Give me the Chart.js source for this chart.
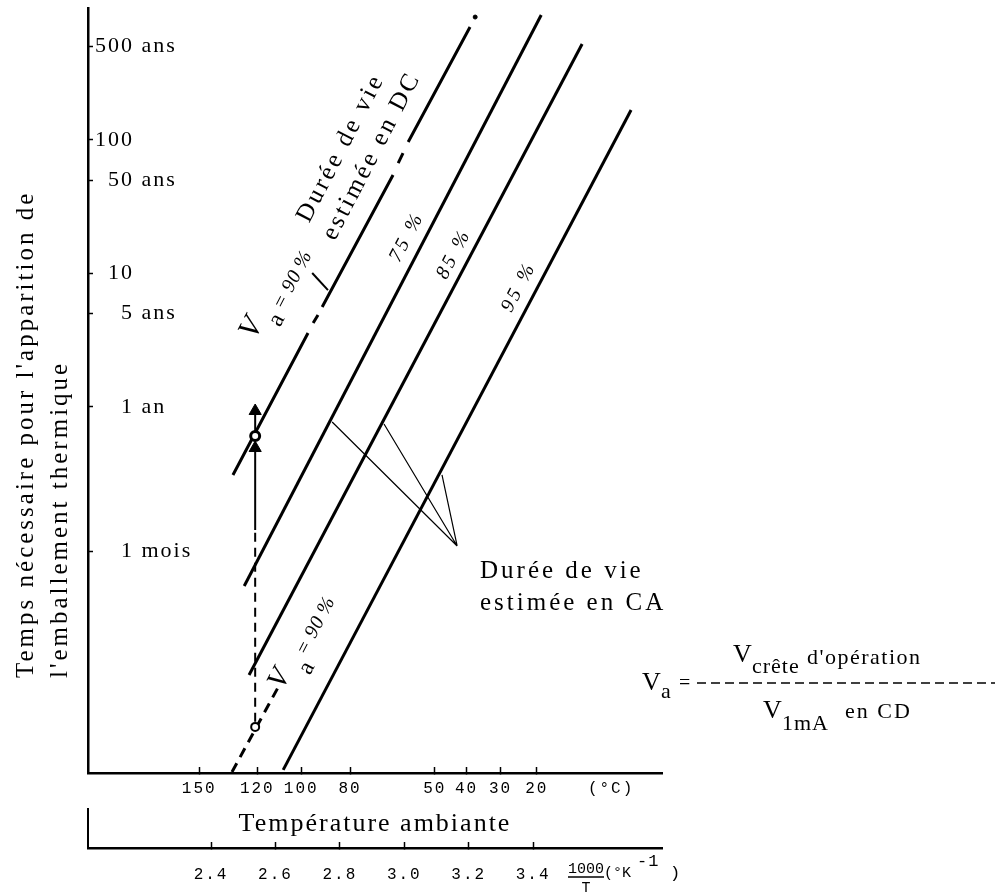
<!DOCTYPE html>
<html lang="fr">
<head>
<meta charset="UTF-8">
<title>Durée de vie estimée - emballement thermique</title>
<script src="https://cdn.jsdelivr.net/npm/chart.js"></script>
<style>
  html, body { margin: 0; padding: 0; background: #fff; }
</style>
</head>
<body>
<canvas id="graphe" width="1003" height="896"></canvas>
<script>
  // axe vertical : temps en années (log)
  const yTicks = [1 / 12, 1, 5, 10, 50, 100, 500];
  const yTickLabels = ['\u2007\u20071 mois', '\u2007\u20071 an', '\u2007\u20075 ans', '\u200710', '\u200750 ans', '100', '500 ans'];

  // axes horizontaux : 1000/T et température en °C
  const invTTicks = [2.4, 2.6, 2.8, 3.0, 3.2, 3.4];
  const tempC = [150, 120, 100, 80, 50, 40, 30, 20];
  const posUniteC = 3.642; // place du libellé (°C)

  // droites Va (x = 1000/T, y = années)
  const va75 = [{ x: 2.503, y: 0.0457 }, { x: 3.425, y: 859 }];
  const va85 = [{ x: 2.518, y: 0.00986 }, { x: 3.552, y: 521 }];
  const va95 = [{ x: 2.624, y: 0.00192 }, { x: 3.704, y: 167 }];
  const va90ca = [{ x: 2.465, y: 0.00185 }, { x: 2.614, y: 0.00845 }];
  const va90cd = [
    { x: 2.468, y: 0.31 }, { x: 2.701, y: 3.58 }, { x: 2.709, y: null },
    { x: 2.717, y: 4.25 }, { x: 2.732, y: 4.88 }, { x: 2.739, y: null },
    { x: 2.745, y: 5.6 }, { x: 2.965, y: 54.5 }, { x: 2.973, y: null },
    { x: 2.981, y: 67 }, { x: 2.996, y: 79.6 }, { x: 3.004, y: null },
    { x: 3.012, y: 96.3 }, { x: 3.204, y: 699 }
  ];

  // flèche verticale à 120 °C
  const montee = [
    { x: 2.537, y: 0.0044 }, { x: 2.537, y: 0.12 }, { x: 2.537, y: 0.493 }, { x: 2.537, y: null },
    { x: 2.537, y: 0.607 }, { x: 2.537, y: 0.933 }
  ];
  const fleches = [{ x: 2.537, y: 0.493 }, { x: 2.537, y: 0.933 }];
  const cercles = [{ x: 2.537, y: 0.00403 }, { x: 2.537, y: 0.607 }, { x: 3.220, y: 830 }];

  // traits de renvoi
  const renvoiCA = [
    { x: 3.164, y: 0.0911 }, { x: 2.776, y: 0.772 }, { x: 2.97, y: null },
    { x: 3.164, y: 0.0911 }, { x: 2.937, y: 0.746 }, { x: 3.05, y: null },
    { x: 3.164, y: 0.0911 }, { x: 3.117, y: 0.310 }
  ];
  const renvoiCD = [{ x: 2.763, y: 7.5 }, { x: 2.714, y: 10.07 }];

  const SERIF = '"Liberation Serif", "DejaVu Serif", serif';
  const MONO = '"Liberation Mono", "DejaVu Sans Mono", monospace';

  function texte(ctx, s, x, y, font, o = {}) {
    ctx.save();
    ctx.font = font;
    ctx.fillStyle = '#000';
    ctx.letterSpacing = (o.ls === undefined ? 3 : o.ls) + 'px';
    ctx.textAlign = o.align || 'left';
    ctx.textBaseline = o.base || 'alphabetic';
    ctx.translate(x, y);
    if (o.rot) ctx.rotate(o.rot);
    ctx.fillText(s, 0, 0);
    ctx.restore();
  }

  const habillage = {
    id: 'habillage',
    beforeDraw(chart) {
      const ctx = chart.ctx;
      ctx.save();
      ctx.fillStyle = '#fff';
      ctx.fillRect(0, 0, chart.width, chart.height);
      ctx.restore();
      ctx.letterSpacing = '2px';
    },
    afterDraw(chart) {
      const ctx = chart.ctx;
      ctx.letterSpacing = '0px';
      const sx = chart.scales.x, sy = chart.scales.y;

      // angle des droites, pris sur la droite 75 %
      const ang = Math.atan2(sy.getPixelForValue(va75[1].y) - sy.getPixelForValue(va75[0].y),
                             sx.getPixelForValue(va75[1].x) - sx.getPixelForValue(va75[0].x));
      const c = { align: 'center', base: 'middle', rot: ang };
      const c0 = { ...c, ls: 0.5 };

      // titre vertical
      const f25 = '25px ' + SERIF;
      texte(ctx, "Temps nécessaire pour l'apparition de", 33, 678, f25, { rot: -Math.PI / 2 });
      texte(ctx, "l'emballement thermique", 67, 678, f25, { rot: -Math.PI / 2 });

      // étiquette de la droite CD
      texte(ctx, 'V', 252, 328, 'italic 31px ' + SERIF, c0);
      texte(ctx, 'a', 277, 320, '24px ' + SERIF, c0);
      texte(ctx, '= 90 %', 293, 280, 'italic 20px ' + SERIF, c0);
      texte(ctx, 'Durée de vie', 341, 148, f25, c);
      texte(ctx, 'estimée en DC', 372, 156, f25, c);

      // pourcentages
      texte(ctx, '75 %', 407, 237, 'italic 20px ' + SERIF, c);
      texte(ctx, '85 %', 454, 254, 'italic 20px ' + SERIF, c);
      texte(ctx, '95 %', 519, 287, 'italic 20px ' + SERIF, c);

      // étiquette de la droite CA
      texte(ctx, 'V', 280, 679, 'italic 29px ' + SERIF, c0);
      texte(ctx, 'a', 307, 668, '24px ' + SERIF, c0);
      texte(ctx, '= 90 %', 316, 626, 'italic 20px ' + SERIF, c0);

      texte(ctx, 'Durée de vie', 480, 578, f25);
      texte(ctx, 'estimée en CA', 480, 610, f25);

      // définition de Va
      texte(ctx, 'V', 642, 690, '26px ' + SERIF, { ls: 0 });
      texte(ctx, 'a', 661, 698, '22px ' + SERIF, { ls: 0 });
      texte(ctx, '=', 679, 689, '20px ' + SERIF, { ls: 0 });
      ctx.save();
      ctx.strokeStyle = '#000';
      ctx.lineWidth = 1.6;
      ctx.setLineDash([9, 5]);
      ctx.beginPath();
      ctx.moveTo(697, 683);
      ctx.lineTo(995, 683);
      ctx.stroke();
      ctx.restore();
      texte(ctx, 'V', 733, 662, '26px ' + SERIF, { ls: 0 });
      texte(ctx, 'crête', 752, 673, '22px ' + SERIF, { ls: 1 });
      texte(ctx, "d'opération", 807, 664, '22px ' + SERIF, { ls: 1.5 });
      texte(ctx, 'V', 763, 718, '26px ' + SERIF, { ls: 0 });
      texte(ctx, '1mA', 782, 730, '22px ' + SERIF, { ls: 1 });
      texte(ctx, 'en CD', 845, 718, '22px ' + SERIF, { ls: 2 });

      // équerre de l'axe 1000/T et unité
      ctx.save();
      ctx.strokeStyle = '#000';
      ctx.lineWidth = 2;
      ctx.beginPath();
      ctx.moveTo(sx.left, sx.top - 40);
      ctx.lineTo(sx.left, sx.top);
      ctx.stroke();
      ctx.lineWidth = 1.3;
      ctx.beginPath();
      ctx.moveTo(568, 877);
      ctx.lineTo(604, 877);
      ctx.stroke();
      ctx.restore();
      const fm = '15px ' + MONO;
      texte(ctx, '1000', 568, 873, fm, { ls: 0 });
      texte(ctx, 'T', 586, 892, fm, { ls: 0, align: 'center' });
      texte(ctx, '(°K', 604, 877, fm, { ls: 0 });
      texte(ctx, '-1', 637, 866, '17px ' + MONO, { ls: 1 });
      texte(ctx, ')', 670, 878, '17px ' + MONO, { ls: 0 });
    }
  };

  const sansMarges = s => { s.paddingTop = 0; s.paddingBottom = 0; s.paddingLeft = 0; s.paddingRight = 0; };

  const trait = { showLine: true, pointRadius: 0, borderColor: '#000', borderWidth: 3, fill: false };

  new Chart(document.getElementById('graphe'), {
    type: 'scatter',
    data: {
      datasets: [
        { label: 'cercles', data: cercles, showLine: false, pointRadius: [4, 4.5, 2],
          pointBorderWidth: [2, 3, 1], pointBackgroundColor: ['#fff', '#fff', '#000'], pointBorderColor: '#000' },
        { label: 'flèches', data: fleches, showLine: false, pointStyle: 'triangle', pointRadius: 7,
          pointBackgroundColor: '#000', pointBorderColor: '#000', pointBorderWidth: 1 },
        { label: 'montée', data: montee, ...trait, borderWidth: 2,
          segment: { borderDash: s => s.p0DataIndex === 0 ? [9, 6] : [] } },
        { label: 'Va = 90 % CD', data: va90cd, ...trait },
        { label: 'Va = 90 % CA', data: va90ca, ...trait, borderDash: [10, 7] },
        { label: '75 %', data: va75, ...trait },
        { label: '85 %', data: va85, ...trait },
        { label: '95 %', data: va95, ...trait },
        { label: 'renvoi CA', data: renvoiCA, ...trait, borderWidth: 1.2 },
        { label: 'renvoi CD', data: renvoiCD, ...trait, borderWidth: 2 }
      ]
    },
    options: {
      responsive: false,
      animation: false,
      devicePixelRatio: 1,
      layout: { padding: { left: 88, right: 341, top: 8, bottom: 12 } },
      plugins: { legend: { display: false }, tooltip: { enabled: false } },
      scales: {
        y: {
          type: 'logarithmic',
          position: 'left',
          min: 0.00182,
          max: 970,
          bounds: 'data',
          afterBuildTicks: s => { s.ticks = yTicks.map(v => ({ value: v })); },
          afterFit: s => { s.width = 0; sansMarges(s); },
          border: { color: '#000', width: 2.5 },
          grid: { drawOnChartArea: false, tickLength: -5, tickColor: '#000', tickWidth: 1.5 },
          ticks: {
            mirror: true, padding: 7, autoSkip: false, color: '#000',
            font: { family: SERIF, size: 22 },
            callback: (v, i) => yTickLabels[i]
          }
        },
        xc: {
          type: 'linear',
          position: 'bottom',
          weight: 0,
          min: 2.018,
          max: 3.80,
          bounds: 'data',
          afterBuildTicks: s => {
            s.ticks = tempC.map(t => ({ value: 1000 / (t + 273.15) })).concat([{ value: posUniteC }]);
          },
          afterFit: s => { s.height = 75; sansMarges(s); },
          border: { color: '#000', width: 2.5 },
          grid: {
            drawOnChartArea: false, tickLength: -6, tickWidth: 1.5,
            tickColor: g => g.index < tempC.length ? '#000' : 'rgba(0,0,0,0)'
          },
          ticks: {
            padding: 12, autoSkip: false, maxRotation: 0, color: '#000',
            font: { family: MONO, size: 16 },
            callback: (v, i) => i < tempC.length ? String(tempC[i]) : '(°C)'
          },
          title: {
            display: true, text: 'Température ambiante', color: '#000',
            font: { family: SERIF, size: 26 }, padding: { top: 10, bottom: 8 }
          }
        },
        x: {
          type: 'linear',
          position: 'bottom',
          weight: 1,
          min: 2.018,
          max: 3.80,
          bounds: 'data',
          afterBuildTicks: s => { s.ticks = invTTicks.map(v => ({ value: v })); },
          afterFit: s => { s.height = 36; sansMarges(s); },
          border: { color: '#000', width: 2.5 },
          grid: { drawOnChartArea: false, tickLength: -6, tickColor: '#000', tickWidth: 1.5 },
          ticks: {
            padding: 23, autoSkip: false, maxRotation: 0, color: '#000',
            font: { family: MONO, size: 16 },
            callback: v => v.toFixed(1)
          }
        }
      }
    },
    plugins: [habillage]
  });
</script>
</body>
</html>
